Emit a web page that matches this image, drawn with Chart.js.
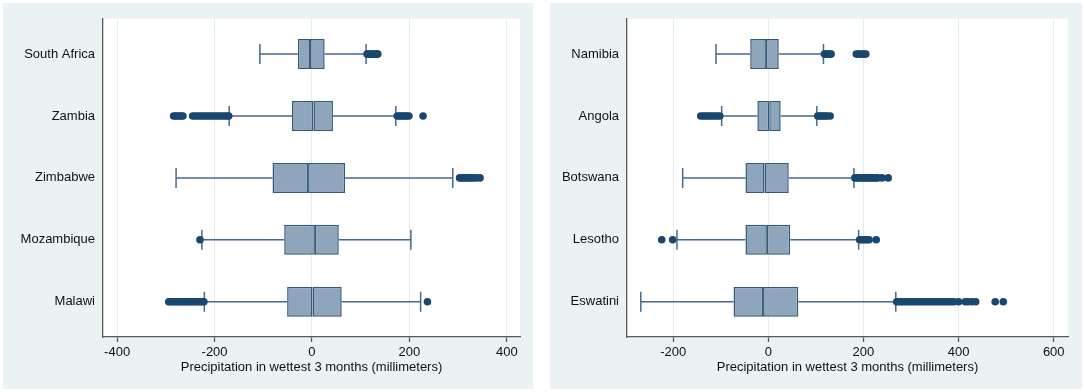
<!DOCTYPE html>
<html>
<head>
  <title>Precipitation in wettest 3 months</title>
  <script src="https://cdn.jsdelivr.net/npm/chart.js"></script>
  <style>
    body {
      margin: 0;
      width: 1084px;
      height: 392px;
      position: relative;
      overflow: hidden;
      background-color: #fff;
    }

    .panel {
      position: absolute;
      top: 3px;
      height: 386px;
      background-color: #eaf2f3;
    }

    #leftPanel { left: 3px; width: 530px; }
    #rightPanel { left: 550px; width: 532px; }
  </style>
</head>
<body>
  <div class="panel" id="leftPanel"><canvas id="leftChart"></canvas></div>
  <div class="panel" id="rightPanel"><canvas id="rightChart"></canvas></div>

  <script>
    // left panel
    const countriesLeft = ['South Africa', 'Zambia', 'Zimbabwe', 'Mozambique', 'Malawi'];
    const lowWhiskerLeft = [-107, -170, -279, -226, -221];
    const q1Left = [-29, -41, -81, -57, -51];
    const medianLeft = [-4, 3, -8, 6, 1];
    const q3Left = [26, 43, 68, 55, 61];
    const highWhiskerLeft = [111, 172, 289, 203, 223];
    const outliersLeft = [
      [113, 116, 119, 122, 125, 128, 131, 134, 135],
      [-284, -280, -276, -272, -268, -265, -245, -240, -235, -230, -225, -220, -215, -210, -205, -200, -195, -190, -185, -180, -175, -171,
        175, 179, 183, 187, 191, 195, 199, 228],
      [303, 307, 311, 315, 319, 323, 327, 331, 337, 345],
      [-230],
      [-294, -290, -286, -282, -278, -274, -270, -266, -262, -258, -254, -250, -246, -242, -238, -234, -230, -226, -222, 237]
    ];
    const xTicksLeft = [-400, -200, 0, 200, 400];
    const xMinLeft = -429;
    const xMaxLeft = 427;

    // right panel
    const countriesRight = ['Namibia', 'Angola', 'Botswana', 'Lesotho', 'Eswatini'];
    const lowWhiskerRight = [-110, -98, -180, -192, -268];
    const q1Right = [-38, -23, -48, -48, -73];
    const medianRight = [-5, 2, -8, -3, -11];
    const q3Right = [22, 26, 43, 46, 63];
    const highWhiskerRight = [116, 102, 180, 190, 268];
    const outliersRight = [
      [118, 121, 124, 127, 130, 132, 185, 189, 193, 197, 201, 205],
      [-142, -137, -132, -127, -122, -117, -112, -107, -102, 104, 108, 112, 116, 120, 124, 130],
      [182, 186, 190, 194, 198, 202, 206, 210, 214, 218, 222, 226, 230, 239, 252],
      [-224, -201, 192, 196, 200, 204, 208, 212, 227],
      [270, 275, 280, 285, 290, 295, 300, 305, 310, 315, 320, 325, 330, 335, 340, 345, 350, 355, 360, 365, 370, 375, 380, 385, 390,
        400, 414, 420, 428, 436, 477, 494]
    ];
    const xTicksRight = [-200, 0, 200, 400, 600];
    const xMinRight = -297;
    const xMaxRight = 630;

    const axisTitle = 'Precipitation in wettest 3 months (millimeters)';

    Chart.defaults.font.family = "'Liberation Sans', Arial, sans-serif";
    Chart.defaults.font.size = 13;
    Chart.defaults.color = '#111';

    // white plot region like stata
    const plotBackground = {
      id: 'plotBackground',
      beforeDraw(chart) {
        const { ctx, chartArea: a } = chart;
        ctx.save();
        ctx.fillStyle = '#fff';
        ctx.fillRect(a.left, a.top, a.right - a.left, a.bottom - a.top);
        ctx.restore();
      }
    };

    function makeBoxChart(canvasId, countries, lo, q1, med, q3, hi, outliers, xTicks, xMin, xMax, yWidth, padRight) {
      const boxFill = '#8fa5bc';
      const boxLine = '#32587c';
      const whisker = '#46698c';
      const dot = '#1a476f';

      const pairs = (a, b) => countries.map((c, i) => ({ x: [a[i], b[i]], y: i + 1 }));
      const caps = [];
      countries.forEach((c, i) => {
        caps.push({ x: lo[i], y: i + 1 });
        caps.push({ x: hi[i], y: i + 1 });
      });
      const dots = [];
      outliers.forEach((list, i) => list.forEach(v => dots.push({ x: v, y: i + 1 })));

      const whiskerBar = data => ({
        type: 'bar', data: data, backgroundColor: whisker, borderWidth: 0,
        grouped: false, maxBarThickness: 1.5, order: 4
      });
      const boxBar = data => ({
        type: 'bar', data: data, backgroundColor: boxFill, borderColor: boxLine, borderWidth: 1.5,
        borderSkipped: false, grouped: false, maxBarThickness: 30, order: 3
      });

      return new Chart(document.getElementById(canvasId), {
        type: 'bar',
        data: {
          datasets: [
            whiskerBar(pairs(lo, q1)),
            whiskerBar(pairs(q3, hi)),
            boxBar(pairs(q1, med)),
            boxBar(pairs(med, q3)),
            {
              type: 'scatter', data: caps, pointStyle: 'line', pointRotation: 90, pointRadius: 10,
              pointBorderWidth: 1.5, pointBorderColor: whisker, order: 2
            },
            {
              type: 'scatter', data: dots, pointRadius: 3.8, pointBackgroundColor: dot,
              pointBorderColor: dot, pointBorderWidth: 0, order: 1
            }
          ]
        },
        options: {
          indexAxis: 'y',
          responsive: true,
          maintainAspectRatio: false,
          animation: false,
          events: [],
          layout: { padding: { top: 13, right: padRight, bottom: 0, left: 0 } },
          plugins: { legend: { display: false }, tooltip: { enabled: false } },
          scales: {
            x: {
              type: 'linear',
              min: xMin,
              max: xMax,
              afterBuildTicks: s => { s.ticks = xTicks.map(v => ({ value: v })); },
              afterFit: s => { s.height = 52; },
              grid: { color: '#e4ecf0', lineWidth: 1, tickLength: 5, tickColor: '#5a5a5a', tickWidth: 1.3 },
              border: { display: true, color: '#5a5a5a', width: 1.3 },
              ticks: { padding: 3, color: '#111', callback: v => String(v) },
              title: { display: true, text: axisTitle, color: '#111', padding: { top: 0, bottom: 14 } }
            },
            y: {
              type: 'linear',
              reverse: true,
              offset: false,
              min: 0.43,
              max: 5.57,
              afterBuildTicks: s => { s.ticks = countries.map((c, i) => ({ value: i + 1 })); },
              afterFit: s => { s.width = yWidth; },
              grid: { display: false, drawTicks: false },
              border: { display: true, color: '#5a5a5a', width: 1.3 },
              ticks: { padding: 8, color: '#111', callback: v => countries[v - 1] }
            }
          }
        },
        plugins: [plotBackground]
      });
    }

    window.onload = function() {
      makeBoxChart('leftChart', countriesLeft, lowWhiskerLeft, q1Left, medianLeft, q3Left, highWhiskerLeft,
        outliersLeft, xTicksLeft, xMinLeft, xMaxLeft, 100, 13);
      makeBoxChart('rightChart', countriesRight, lowWhiskerRight, q1Right, medianRight, q3Right, highWhiskerRight,
        outliersRight, xTicksRight, xMinRight, xMaxRight, 77, 14);
    };
  </script>
</body>
</html>
